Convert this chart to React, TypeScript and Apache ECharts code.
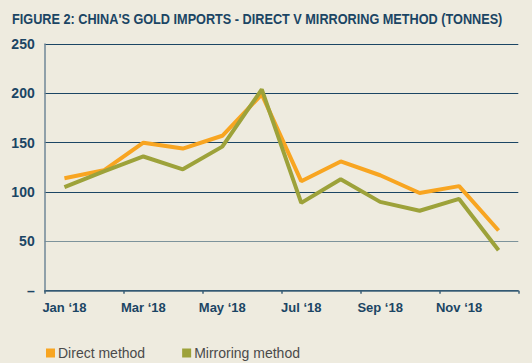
import React, { useEffect, useRef } from "react";
import * as echarts from "echarts";

const months = ["Jan ‘18", "Feb ‘18", "Mar ‘18", "Apr ‘18", "May ‘18", "Jun ‘18", "Jul ‘18", "Aug ‘18", "Sep ‘18", "Oct ‘18", "Nov ‘18", "Dec ‘18"];
const directMethod = [114, 122, 150, 144, 157, 199, 111, 131, 117, 99, 106, 61];
const mirroringMethod = [105, 121, 136, 123, 146, 204, 89, 113, 90, 81, 93, 41];
const titleText = "FIGURE 2: CHINA'S GOLD IMPORTS - DIRECT V MIRRORING METHOD (TONNES)";

const DARK = "#1b4564";

export default function App() {
  const ref = useRef<HTMLDivElement>(null);
  useEffect(() => {
    if (!ref.current) return;
    const chart = echarts.init(ref.current, undefined, { renderer: "svg" });
    chart.setOption({
      animation: false,
      backgroundColor: "#eeebdf",
      graphic: [
        {
          type: "text",
          x: 12,
          y: 11,
          scaleX: 0.847,
          scaleY: 1,
          style: {
            x: 0,
            y: 0,
            text: titleText,
            font: "bold 15px 'Liberation Sans'",
            fill: DARK,
            textVerticalAlign: "top",
          },
        },
      ],
      legend: {
        left: 46,
        top: 346,
        padding: 0,
        icon: "rect",
        itemWidth: 9,
        itemHeight: 9,
        itemGap: 37,
        textStyle: {
          fontFamily: "Liberation Sans",
          fontSize: 14,
          color: "#4a4a4a",
          padding: [0, 0, 0, -2],
        },
        data: ["Direct method", "Mirroring method"],
      },
      grid: { left: 44.7, right: 13.7, top: 44, bottom: 72.3, containLabel: false },
      xAxis: {
        type: "category",
        data: months,
        boundaryGap: true,
        axisLine: { show: true, lineStyle: { color: "#3d6078", width: 1.5 } },
        axisTick: { show: true, interval: 1, length: 3, lineStyle: { color: "#3d6078", width: 1.5 } },
        axisLabel: {
          interval: 1,
          margin: 10,
          fontFamily: "Liberation Sans",
          fontWeight: "bold",
          fontSize: 13,
          color: DARK,
        },
      },
      yAxis: {
        type: "value",
        min: 0,
        max: 250,
        interval: 50,
        axisLine: { show: true, lineStyle: { color: "#6f8797", width: 1.5 } },
        axisTick: { show: false },
        splitLine: {
          show: true,
          lineStyle: { color: [DARK, "#7d939b", DARK, DARK, DARK, DARK], width: 1.2 },
        },
        axisLabel: {
          margin: 10,
          fontFamily: "Liberation Sans",
          fontWeight: "bold",
          fontSize: 14,
          color: DARK,
          formatter: (v: number) => (v === 0 ? "–" : String(v)),
        },
      },
      series: [
        {
          name: "Direct method",
          type: "line",
          data: directMethod,
          symbol: "none",
          lineStyle: { width: 4, color: "#f8a521" },
          itemStyle: { color: "#f8a521" },
        },
        {
          name: "Mirroring method",
          type: "line",
          data: mirroringMethod,
          symbol: "none",
          lineStyle: { width: 4, color: "#9da23a" },
          itemStyle: { color: "#9da23a" },
        },
      ],
    });
    return () => chart.dispose();
  }, []);
  return (
    <div
      ref={ref}
      style={{ position: "fixed", left: 0, top: 0, width: 532, height: 363 }}
    />
  );
}
